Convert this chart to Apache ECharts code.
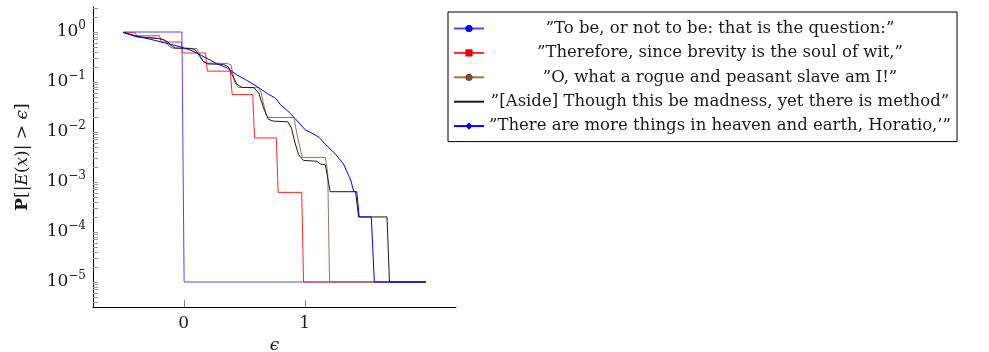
<!DOCTYPE html>
<html>
<head>
<meta charset="utf-8">
<script src="https://cdn.jsdelivr.net/npm/echarts@6/dist/echarts.min.js"></script>
<style>
html,body{margin:0;padding:0;background:#fff;}
#c{width:989px;height:352px;}
</style>
</head>
<body>
<div id="c"></div>
<script>
// ---- data ----
const seriesNames = [
  '\u201dTo be, or not to be: that is the question:\u201d',
  '\u201dTherefore, since brevity is the soul of wit,\u201d',
  '\u201dO, what a rogue and peasant slave am I!\u201d',
  '\u201d[Aside] Though this be madness, yet there is method\u201d',
  '\u201dThere are more things in heaven and earth, Horatio,\u2019\u201d'
];
const toBeX = [-0.5, -0.015, 0.003, 2.0];
const toBeY = [1.0, 1.0, 1e-5, 1e-5];
const thereforeX = [-0.5, -0.40, -0.39, -0.20, -0.185, -0.02, -0.01, 0.18, 0.195, 0.385, 0.40, 0.57, 0.585, 0.765, 0.78, 0.975, 0.99, 2.0];
const thereforeY = [0.97, 0.97, 0.84, 0.84, 0.63, 0.63, 0.38, 0.38, 0.165, 0.165, 0.056, 0.056, 0.0076, 0.0076, 6.2e-4, 6.2e-4, 1e-5, 1e-5];
const rogueX = [-0.5, -0.42, -0.38, -0.20, -0.16, -0.12, -0.09, 0.08, 0.11, 0.14, 0.17, 0.36, 0.39, 0.42, 0.45, 0.62, 0.64, 0.68, 0.70, 0.91, 0.94, 0.98, 1.17, 1.19, 1.205, 2.0];
const rogueY = [0.98, 0.86, 0.78, 0.74, 0.70, 0.52, 0.47, 0.47, 0.46, 0.32, 0.24, 0.235, 0.22, 0.10, 0.078, 0.077, 0.06, 0.022, 0.0195, 0.0195, 0.008, 0.0031, 0.0031, 0.0015, 1e-5, 1e-5];
const asideX = [-0.5, -0.45, -0.40, -0.35, -0.25, -0.18, -0.13, -0.10, -0.07, 0.05, 0.09, 0.12, 0.16, 0.20, 0.33, 0.37, 0.40, 0.44, 0.48, 0.58, 0.62, 0.66, 0.70, 0.74, 0.86, 0.89, 0.92, 0.95, 0.99, 1.10, 1.13, 1.17, 1.19, 1.21, 1.42, 1.445, 1.68, 1.70, 2.0];
const asideY = [0.98, 0.90, 0.82, 0.79, 0.76, 0.72, 0.63, 0.52, 0.48, 0.47, 0.45, 0.36, 0.26, 0.23, 0.225, 0.20, 0.14, 0.09, 0.078, 0.077, 0.06, 0.03, 0.018, 0.0165, 0.016, 0.012, 0.006, 0.0035, 0.0027, 0.0026, 0.0023, 0.0022, 0.0012, 6.4e-4, 6.4e-4, 2e-4, 2e-4, 1e-5, 1e-5];
const horatioX = [-0.5, -0.40, -0.27, -0.15, -0.02, 0.07, 0.146, 0.27, 0.36, 0.44, 0.52, 0.58, 0.69, 0.76, 0.80, 0.87, 0.92, 0.96, 1.005, 1.07, 1.12, 1.16, 1.25, 1.32, 1.36, 1.38, 1.405, 1.43, 1.45, 1.55, 1.575, 2.0];
const horatioY = [0.98, 0.84, 0.71, 0.60, 0.50, 0.42, 0.34, 0.235, 0.19, 0.138, 0.108, 0.089, 0.059, 0.047, 0.035, 0.025, 0.0186, 0.0145, 0.011, 0.0092, 0.0078, 0.006, 0.0037, 0.0023, 0.0014, 0.0011, 6.4e-4, 6.4e-4, 2e-4, 2e-4, 1e-5, 1e-5];
const xTickValues = [0, 1];
const xTickLabels = ['0', '1'];
const yMajorTicks = [1e-5, 1e-4, 1e-3, 1e-2, 1e-1, 1];
const yMinorTicks = [4e-6,5e-6,6e-6,7e-6,8e-6,9e-6,
  2e-5,3e-5,4e-5,5e-5,6e-5,7e-5,8e-5,9e-5,
  2e-4,3e-4,4e-4,5e-4,6e-4,7e-4,8e-4,9e-4,
  2e-3,3e-3,4e-3,5e-3,6e-3,7e-3,8e-3,9e-3,
  2e-2,3e-2,4e-2,5e-2,6e-2,7e-2,8e-2,9e-2,
  0.2,0.3,0.4,0.5,0.6,0.7,0.8,0.9,2,3];

// ---- chart ----
const zip = (xs, ys) => xs.map((x, i) => [x, ys[i]]);
const FONT = '"DejaVu Serif", "Liberation Serif", serif';
const STAR = 'path://M0,-10 L0,10 M-9.5,-3.1 L9.5,3.1 M-9.5,3.1 L9.5,-3.1 M-5.9,8.1 L5.9,-8.1 M5.9,8.1 L-5.9,-8.1';
const TXT = '#1a1a1a';

const chart = echarts.init(document.getElementById('c'), null, {renderer: 'canvas'});

function mk(name, xs, ys, lineColor, markColor, symbol, symbolSize) {
  return {name: name, type: 'line', data: zip(xs, ys), showSymbol: false, symbol: symbol, symbolSize: symbolSize,
    animation: false, lineStyle: {color: lineColor, width: 1}, itemStyle: {color: markColor, borderColor: markColor},
    emphasis: {disabled: true}};
}
const supFmt = v => {
  const e = Math.round(Math.log10(v));
  const s = e < 0 ? '\u2212' + (-e) : String(e);
  return '{b|10}{s|' + s + '}';
};
const allYTicks = yMajorTicks.concat(yMinorTicks).sort((a, b) => a - b);

chart.setOption({
  backgroundColor: '#fff',
  animation: false,
  grid: {left: 93, top: 7, right: 533, bottom: 45, containLabel: false, outerBoundsMode: 'none'},
  legend: {
    orient: 'vertical', left: 448, top: 12, padding: [8, 6, 7, 5], borderColor: '#000', borderWidth: 1,
    itemWidth: 30, itemHeight: 9, itemGap: 7.4, selectedMode: false,
    textStyle: {fontFamily: FONT, fontSize: 16.5, color: TXT,
      rich: {c: {width: 462, align: 'center', fontFamily: FONT, fontSize: 16.5, lineHeight: 17, color: TXT}}},
    formatter: name => '{c|' + name + '}',
    data: seriesNames
  },
  xAxis: {
    type: 'value', min: -0.75, max: 2.25,
    name: '\u03f5', nameLocation: 'middle', nameGap: 29,
    nameTextStyle: {fontFamily: FONT, fontSize: 17, fontStyle: 'italic', color: TXT},
    axisLine: {show: true, onZero: false, lineStyle: {color: '#000', width: 1}},
    axisTick: {show: true, inside: true, length: 7, customValues: xTickValues, lineStyle: {color: '#888'}},
    axisLabel: {show: true, customValues: xTickValues, margin: 8,
      formatter: v => { const i = xTickValues.indexOf(v); return i >= 0 ? xTickLabels[i] : String(v); },
      fontFamily: FONT, fontSize: 17, color: TXT},
    splitLine: {show: false}
  },
  yAxis: {
    type: 'log', logBase: 10, min: Math.pow(10, -5.5), max: Math.pow(10, 0.5),
    name: '{b|P}[|{i|E}({i|x})| > {i|\u03f5}]', nameLocation: 'middle', nameGap: 62,
    nameTextStyle: {fontFamily: FONT, fontSize: 17, color: TXT,
      rich: {b: {fontFamily: FONT, fontSize: 17, fontWeight: 'bold', color: TXT},
             i: {fontFamily: FONT, fontSize: 17, fontStyle: 'italic', color: TXT}}},
    axisLine: {show: true, onZero: false, lineStyle: {color: '#000', width: 1}},
    axisTick: {show: true, inside: true, length: 5, customValues: allYTicks, lineStyle: {color: '#999'}},
    axisLabel: {show: true, customValues: yMajorTicks, margin: 7, formatter: supFmt,
      rich: {b: {fontFamily: FONT, fontSize: 17, color: TXT},
             s: {fontFamily: FONT, fontSize: 12, color: TXT, padding: [0, 0, 12, 0]}}},
    splitLine: {show: false}
  },
  series: [
    mk(seriesNames[0], toBeX, toBeY, '#4a4aff', '#0000ee', 'circle', 7),
    mk(seriesNames[1], thereforeX, thereforeY, '#ff2a2a', '#ee0000', 'rect', 7),
    mk(seriesNames[2], rogueX, rogueY, '#9a7656', '#7a4f2a', 'circle', 7),
    mk(seriesNames[3], asideX, asideY, '#1a1a1a', '#000', STAR, 6),
    mk(seriesNames[4], horatioX, horatioY, '#0000ff', '#0000ee', 'diamond', 7)
  ]
});
</script>
</body>
</html>
